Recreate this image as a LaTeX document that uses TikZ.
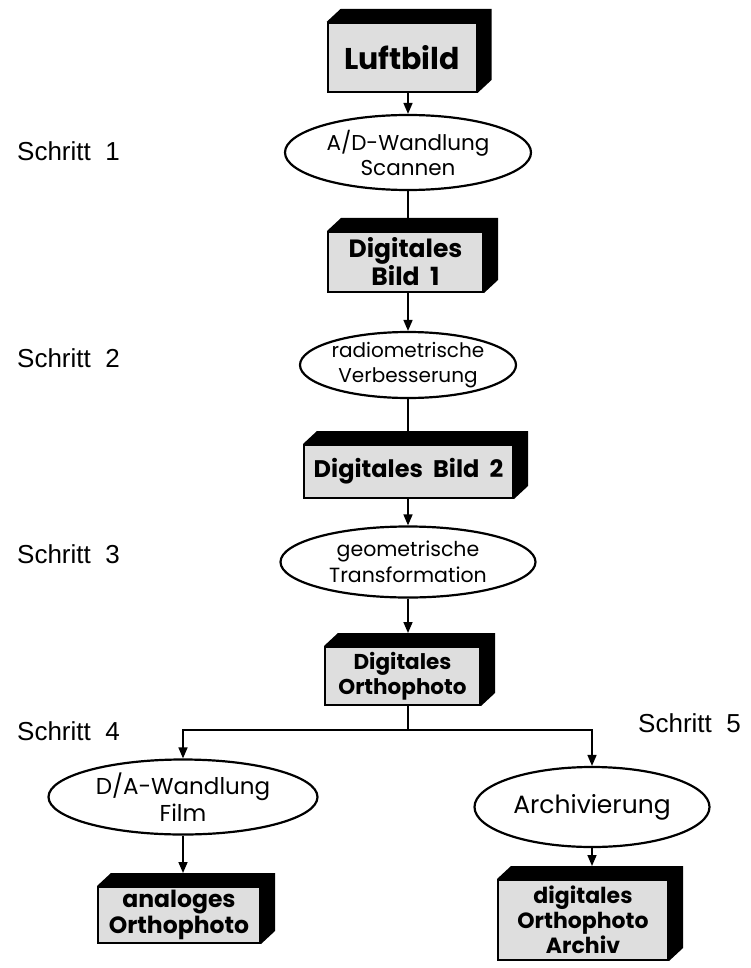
\documentclass[tikz,border=0pt]{standalone}
\usepackage{fontspec}
\setmainfont{Poppins}
\newfontfamily\schrittfont{Liberation Sans}
\usetikzlibrary{arrows.meta,shapes.geometric,calc}
\newcommand{\extrude}[1]{%
  \fill[black] (#1.north west) -- ++(14,-13) -- ($(#1.north east)+(14,-13)$)
    -- ($(#1.south east)+(14,-13)$) -- (#1.south east) -- (#1.north east) -- cycle;}
\newcommand{\fsz}[2]{\fontsize{#1}{#2}\selectfont}
\begin{document}
\begin{tikzpicture}[x=1pt,y=-1pt,
  solid3d/.style={draw, line width=2pt, fill=black!13, inner sep=0pt, align=center,
    font=\fsz{22}{25}\bfseries},
  oval/.style={ellipse, draw, line width=2.2pt, fill=white, inner sep=0pt, align=center,
    font=\fsz{20}{25}},
  steplabel/.style={anchor=base west, inner sep=0pt, font=\schrittfont\fsz{26}{30}},
  conn/.style={line width=1.6pt},
  arr/.style={conn, -{Triangle[length=11pt,width=9pt]}}]
\useasboundingbox (0,0) rectangle (751,968);

% nodes
\node[solid3d, minimum width=149pt, minimum height=69pt, font=\fsz{30}{32}\bfseries] (b1) at (402,57.5) {Luftbild};
\node[oval, minimum width=246pt, minimum height=75pt, font=\fsz{21.5}{25}] (e1) at (408,152.5) {A/D-Wandlung\\Scannen};
\node[solid3d, minimum width=155pt, minimum height=60pt, font=\fsz{25}{25}\bfseries] (b2) at (405.5,262) {Digitales\\Bild\ \ 1};
\node[oval, minimum width=216pt, minimum height=66pt] (e2) at (408,365) {radiometrische\\Verbesserung};
\node[solid3d, minimum width=209pt, minimum height=53pt, font=\fsz{24}{25}\bfseries] (b3) at (408.5,471.5) {Digitales\ \ Bild\ \ 2};
\node[oval, minimum width=255pt, minimum height=71pt, font=\fsz{20.5}{26}] (e3) at (408,562) {geometrische\\Transformation};
\node[solid3d, minimum width=155pt, minimum height=58pt, font=\fsz{21.5}{25}\bfseries] (b4) at (402.5,676) {Digitales\\Orthophoto};
\node[oval, minimum width=269pt, minimum height=75pt, font=\fsz{23}{27}] (e4) at (183,797) {D/A-Wandlung\\Film};
\node[oval, minimum width=235pt, minimum height=80pt, font=\fsz{25}{28}] (e5) at (592,807) {Archivierung};
\node[solid3d, minimum width=162pt, minimum height=56pt, font=\fsz{23.5}{26}\bfseries] (b5) at (179,915) {analoges\\Orthophoto};
\node[solid3d, minimum width=170pt, minimum height=80pt] (b6) at (583,920) {digitales\\Orthophoto\\Archiv};

\foreach \n in {b1,b2,b3,b4,b5,b6} {\extrude{\n}}

% step labels
\node[steplabel] (s1) at (17,161) {Schritt\ \ 1};
\node[steplabel] (s2) at (17,367) {Schritt\ \ 2};
\node[steplabel] (s3) at (17,563) {Schritt\ \ 3};
\node[steplabel] (s4) at (17,740) {Schritt\ \ 4};
\node[steplabel] (s5) at (638,732) {Schritt\ \ 5};

% connectors
\coordinate (jn) at (408,730);
\draw[arr] (b1.south -| e1.north) -- (e1.north);
\draw[conn] (e1.south) -- ($(b2.north -| e1.south)+(0,-13)$);
\draw[arr] (b2.south -| e2.north) -- (e2.north);
\draw[conn] (e2.south) -- ($(b3.north -| e2.south)+(0,-13)$);
\draw[arr] (b3.south -| e3.north) -- (e3.north);
\draw[arr] (e3.south) -- ($(b4.north -| e3.south)+(0,-13)$);
\draw[conn] (b4.south -| jn) -- (jn);
\draw[arr] (jn) -| (e4.north);
\draw[arr] (jn) -| (e5.north);
\draw[arr] (e4.south) -- ($(b5.north -| e4.south)+(0,-13)$);
\draw[arr] (e5.south) -- ($(b6.north -| e5.south)+(0,-13)$);
\end{tikzpicture}
\end{document}
